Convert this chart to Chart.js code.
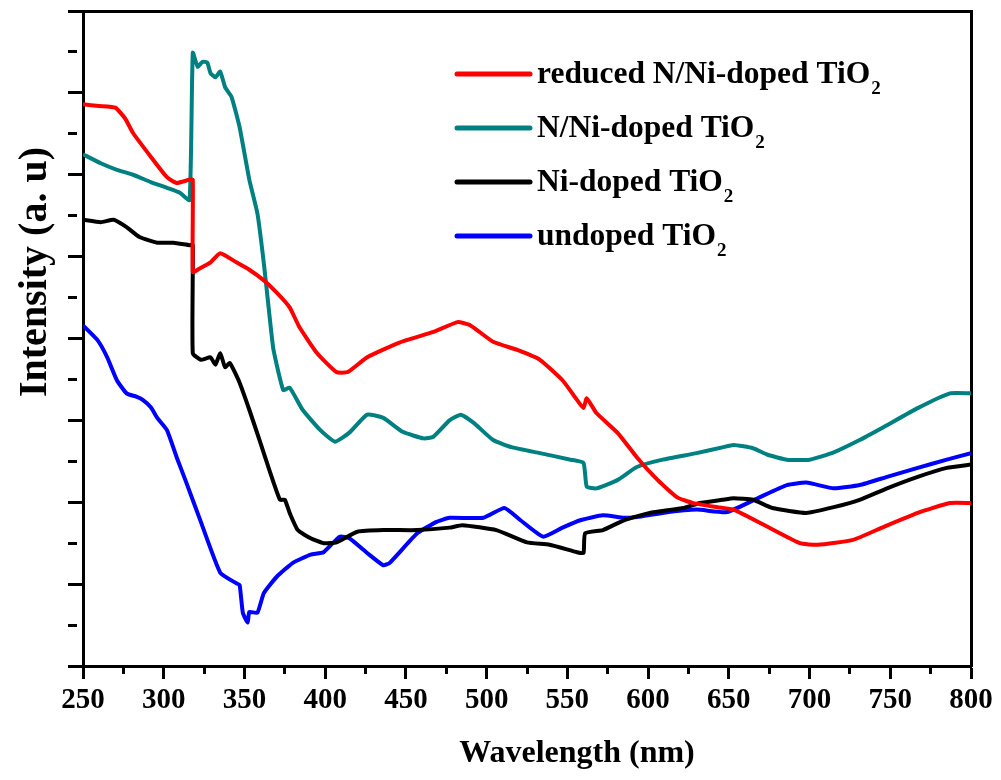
<!DOCTYPE html>
<html>
<head>
<meta charset="utf-8">
<title>UV-vis spectra of TiO2 samples</title>
<script src="https://cdn.jsdelivr.net/npm/chart.js@4.4.0/dist/chart.umd.min.js"></script>
<style>
  html, body { margin: 0; padding: 0; background: #fff; }
  canvas { display: block; }
</style>
</head>
<body>
<canvas id="spectra" width="1001" height="780"></canvas>
<script>
const FONT = '"Liberation Serif", "Times New Roman", serif';

const seriesLabels = ["reduced N/Ni-doped TiO", "N/Ni-doped TiO", "Ni-doped TiO", "undoped TiO"];
const seriesColors = ["#ff0000", "#008080", "#000000", "#0000ff"];
const xTitle = "Wavelength (nm)";
const yTitle = "Intensity (a. u)";

// reduced N/Ni-doped TiO2
const reducedNm = [250, 260, 270, 276, 281, 292, 302, 308, 316, 318, 318, 321, 329, 335, 345, 353, 362, 370, 378, 384,
  395, 407, 414, 426, 446, 467, 482, 490, 504, 519, 533, 547, 556, 560, 562, 568, 581, 593, 606, 618,
  628, 643, 653, 674, 694, 705, 727, 746, 767, 787, 800];
const reducedIntensity = [6.86, 6.84, 6.82, 6.69, 6.51, 6.22, 5.97, 5.90, 5.94, 5.94, 4.81, 4.84, 4.93, 5.04, 4.93, 4.84, 4.71, 4.56, 4.38, 4.14,
  3.82, 3.59, 3.59, 3.77, 3.95, 4.08, 4.20, 4.16, 3.96, 3.86, 3.74, 3.49, 3.25, 3.15, 3.27, 3.09, 2.85, 2.55, 2.27, 2.06,
  1.99, 1.94, 1.91, 1.70, 1.50, 1.48, 1.54, 1.70, 1.87, 1.99, 1.99];

// N/Ni-doped TiO2
const nNiNm = [250, 261, 271, 281, 292, 302, 310, 316, 318, 321, 324, 327, 329, 332, 335, 338, 342, 347, 353, 358,
  362, 366, 368, 374, 378, 386, 397, 406, 415, 426, 436, 448, 461, 467, 477, 484, 492, 504, 516, 533,
  552, 560, 562, 568, 581, 593, 609, 630, 646, 653, 665, 674, 686, 700, 715, 731, 746, 767, 787, 800];
const nNiIntensity = [6.25, 6.14, 6.06, 6.00, 5.91, 5.84, 5.78, 5.69, 7.49, 7.32, 7.38, 7.37, 7.24, 7.19, 7.26, 7.07, 6.95, 6.58, 5.94, 5.53,
  4.92, 4.19, 3.86, 3.37, 3.40, 3.13, 2.88, 2.74, 2.85, 3.07, 3.03, 2.86, 2.78, 2.80, 3.00, 3.07, 2.97, 2.76, 2.67, 2.60,
  2.52, 2.48, 2.19, 2.17, 2.27, 2.43, 2.52, 2.60, 2.67, 2.70, 2.66, 2.58, 2.52, 2.52, 2.61, 2.76, 2.92, 3.15, 3.33, 3.33];

// Ni-doped TiO2
const niNm = [250, 261, 269, 277, 285, 296, 306, 316, 318, 318, 323, 329, 332, 335, 338, 341, 347, 353, 360, 366,
  372, 375, 378, 383, 391, 399, 407, 420, 436, 457, 477, 485, 506, 525, 539, 556, 560, 561, 572, 585,
  601, 622, 632, 646, 653, 665, 677, 698, 715, 731, 748, 767, 785, 800];
const niIntensity = [5.45, 5.42, 5.45, 5.36, 5.24, 5.17, 5.17, 5.14, 5.14, 3.82, 3.74, 3.77, 3.68, 3.82, 3.65, 3.70, 3.46, 3.13, 2.72, 2.36,
  2.03, 2.03, 1.87, 1.66, 1.56, 1.50, 1.51, 1.64, 1.66, 1.66, 1.69, 1.72, 1.66, 1.51, 1.48, 1.39, 1.38, 1.62, 1.66, 1.78,
  1.87, 1.93, 1.99, 2.03, 2.05, 2.03, 1.93, 1.87, 1.94, 2.03, 2.17, 2.31, 2.42, 2.46];

// undoped TiO2
const undopedNm = [250, 259, 265, 271, 277, 283, 287, 292, 296, 302, 308, 314, 323, 335, 345, 347, 349, 352, 353, 358,
  362, 370, 380, 391, 399, 409, 415, 426, 436, 440, 457, 469, 477, 498, 511, 521, 535, 547, 558, 572,
  585, 593, 609, 630, 649, 669, 686, 698, 715, 731, 748, 767, 785, 800];
const undopedIntensity = [4.16, 3.98, 3.77, 3.49, 3.33, 3.29, 3.25, 3.16, 3.03, 2.88, 2.55, 2.24, 1.76, 1.14, 1.01, 0.99, 0.65, 0.53, 0.66, 0.65,
  0.89, 1.09, 1.26, 1.36, 1.39, 1.58, 1.56, 1.38, 1.23, 1.26, 1.62, 1.76, 1.81, 1.81, 1.93, 1.78, 1.58, 1.69, 1.78, 1.84,
  1.81, 1.82, 1.87, 1.91, 1.88, 2.06, 2.21, 2.24, 2.17, 2.21, 2.31, 2.42, 2.52, 2.60];

const spectra = [
  [reducedNm, reducedIntensity],
  [nNiNm, nNiIntensity],
  [niNm, niIntensity],
  [undopedNm, undopedIntensity],
];

const datasets = spectra.map(([nm, intensity], i) => ({
  label: seriesLabels[i] + "2",
  data: nm.map((x, j) => ({ x, y: intensity[j] })),
  borderColor: seriesColors[i],
  borderWidth: 4,
  pointRadius: 0,
  tension: 0.15,
  fill: false,
}));

// legend with subscripted "2" plus the two axis titles
const legendAndTitles = {
  id: "legendAndTitles",
  afterDraw(chart) {
    const ctx = chart.ctx;
    ctx.save();
    ctx.fillStyle = "#000";

    ctx.font = `bold 32px ${FONT}`;
    ctx.textAlign = "center";
    ctx.textBaseline = "alphabetic";
    ctx.fillText(xTitle, 577, 762);

    ctx.save();
    ctx.translate(46, 272);
    ctx.rotate(-Math.PI / 2);
    ctx.font = `bold 40px ${FONT}`;
    ctx.fillText(yTitle, 0, 0);
    ctx.restore();

    ctx.textAlign = "left";
    seriesLabels.forEach((label, i) => {
      const rowY = 74 + i * 54;
      ctx.strokeStyle = seriesColors[i];
      ctx.lineWidth = 5;
      ctx.lineCap = "round";
      ctx.beginPath();
      ctx.moveTo(457, rowY);
      ctx.lineTo(530, rowY);
      ctx.stroke();

      ctx.font = `bold 31.5px ${FONT}`;
      const base = rowY + 9;
      ctx.fillText(label, 537, base);
      const w = ctx.measureText(label).width;
      ctx.font = `bold 19px ${FONT}`;
      ctx.fillText("2", 537 + w + 1, base + 11);
    });
    ctx.restore();
  },
};

const axisLine = { display: true, color: "#000", width: 3 };

new Chart(document.getElementById("spectra"), {
  type: "line",
  data: { datasets },
  plugins: [legendAndTitles],
  options: {
    responsive: false,
    animation: false,
    layout: { padding: 0 },
    plugins: {
      legend: { display: false },
      tooltip: { enabled: false },
    },
    scales: {
      x: {
        type: "linear",
        position: "bottom",
        min: 250,
        max: 800,
        afterFit: (scale) => { scale.height = 114; },
        border: axisLine,
        grid: {
          drawOnChartArea: false,
          tickLength: 13,
          tickWidth: 3,
          tickColor: "#000",
          tickBorderDash: (c) => (c.tick && c.tick.value % 50 !== 0 ? [6, 40] : []),
        },
        ticks: {
          stepSize: 25,
          autoSkip: false,
          maxRotation: 0,
          padding: 4,
          color: "#000",
          font: { family: FONT, size: 29, weight: "bold" },
          callback: (v) => (v % 50 === 0 ? v : ""),
        },
      },
      y: {
        type: "linear",
        position: "left",
        min: 0,
        max: 8,
        afterFit: (scale) => { scale.width = 83; },
        border: axisLine,
        grid: {
          drawOnChartArea: false,
          tickLength: 15,
          tickWidth: 3,
          tickColor: "#000",
          tickBorderDash: (c) => (c.tick && c.tick.value % 1 !== 0 ? [9, 40] : []),
        },
        ticks: { display: false, stepSize: 0.5 },
      },
      xTop: {
        type: "linear",
        position: "top",
        min: 250,
        max: 800,
        afterFit: (scale) => { scale.height = 11; },
        border: axisLine,
        grid: { display: false, drawTicks: false },
        ticks: { display: false },
      },
      yRight: {
        type: "linear",
        position: "right",
        min: 0,
        max: 8,
        afterFit: (scale) => { scale.width = 30; },
        border: axisLine,
        grid: { display: false, drawTicks: false },
        ticks: { display: false },
      },
    },
  },
});
</script>
</body>
</html>
